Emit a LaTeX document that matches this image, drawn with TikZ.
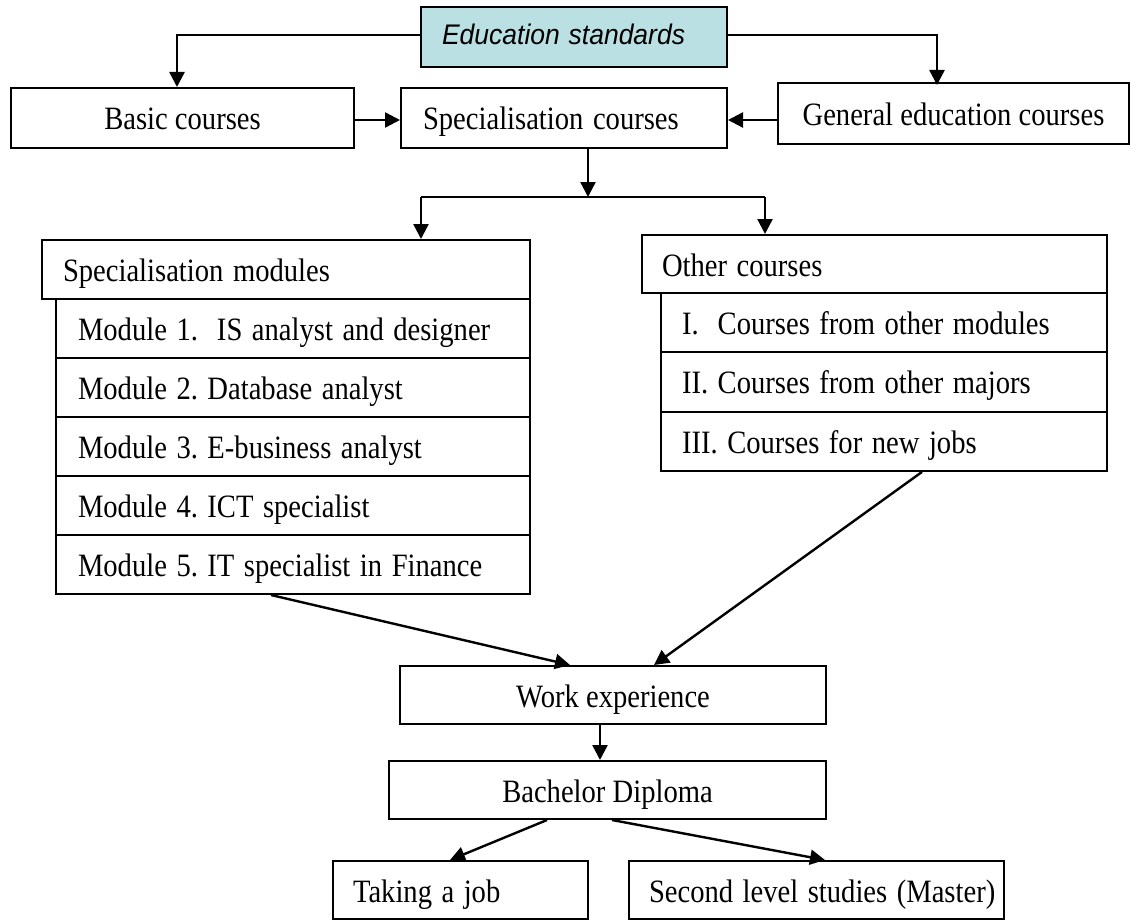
\documentclass[tikz,border=0pt]{standalone}
\usepackage{fontspec}
\usepackage{graphicx}
\setmainfont{Liberation Serif}
\newfontfamily\arialfont{Liberation Sans}
\usetikzlibrary{arrows.meta,calc}
\definecolor{edufill}{RGB}{187,224,227}
\newcommand\vs[1]{\scalebox{1}[1.14]{#1}}
\frenchspacing
\tikzset{
  box/.style={draw, line width=2pt, inner xsep=0pt, inner ysep=0pt, text height=24pt, text depth=0pt, font=\fontsize{28.6}{34}\selectfont\frenchspacing, align=center},
  lbox/.style={box, align=left},
  arr/.style={line width=2.4pt, -{Triangle[length=15pt,width=15pt]}},
  conn/.style={line width=2.4pt},
}
\begin{document}
\begin{tikzpicture}[x=1pt,y=-1pt]
\useasboundingbox (0,0) rectangle (1131,920);
% top row
\node[lbox, fill=edufill, minimum width=306pt, minimum height=60pt, inner xsep=21pt, text width=264pt, text height=16pt, font=\arialfont\itshape\fontsize{26.5}{30}\selectfont] (edu) at (574,37) {\scalebox{1}[1.07]{Education standards}};
\node[box, minimum width=343pt, minimum height=60pt] (basic) at (182.5,118) {\vs{Basic courses}};
\node[lbox, minimum width=326pt, minimum height=60pt, inner xsep=22pt, text width=282pt] (spec) at (564,118) {\vs{Specialisation courses}};
\node[box, minimum width=351pt, minimum height=61pt] (gen) at (953.5,113.5) {\vs{General education courses}};
% specialisation modules
\node[lbox, minimum width=488pt, minimum height=59pt, inner xsep=21pt, text width=446pt] (smod) at (286,269.5) {\vs{Specialisation modules}};
\node[lbox, minimum width=474pt, minimum height=59pt, inner xsep=22pt, text width=430pt] (m1) at (293,328.5) {\vs{Module 1.\ \ IS analyst and designer}};
\node[lbox, minimum width=474pt, minimum height=59pt, inner xsep=22pt, text width=430pt] (m2) at (293,387.5) {\vs{Module 2. Database analyst}};
\node[lbox, minimum width=474pt, minimum height=59pt, inner xsep=22pt, text width=430pt] (m3) at (293,446.5) {\vs{Module 3. E-business analyst}};
\node[lbox, minimum width=474pt, minimum height=59pt, inner xsep=22pt, text width=430pt] (m4) at (293,505.5) {\vs{Module 4. ICT specialist}};
\node[lbox, minimum width=474pt, minimum height=59pt, inner xsep=22pt, text width=430pt] (m5) at (293,564.5) {\vs{Module 5. IT specialist in Finance}};
% other courses
\node[lbox, minimum width=465pt, minimum height=58pt, inner xsep=20pt, text width=425pt] (other) at (874.5,264) {\vs{Other courses}};
\node[lbox, minimum width=446pt, minimum height=59.3pt, inner xsep=21pt, text width=404pt] (o1) at (884,322.65) {\vs{I.\ \ Courses from other modules}};
\node[lbox, minimum width=446pt, minimum height=59.3pt, inner xsep=21pt, text width=404pt] (o2) at (884,381.95) {\vs{II. Courses from other majors}};
\node[lbox, minimum width=446pt, minimum height=59.3pt, inner xsep=21pt, text width=404pt] (o3) at (884,441.25) {\vs{III. Courses for new jobs}};
% bottom
\node[box, minimum width=426pt, minimum height=58pt] (work) at (613,695) {\vs{Work experience}};
\node[box, minimum width=437pt, minimum height=58pt] (bach) at (607.5,790) {\vs{Bachelor Diploma}};
\node[lbox, minimum width=255pt, minimum height=58pt, inner xsep=20pt, text width=215pt] (job) at (460.5,890) {\vs{Taking a job}};
\node[lbox, minimum width=375pt, minimum height=58pt, inner xsep=20pt, text width=335pt] (master) at (816.5,890) {\vs{Second level studies (Master)}};
% connectors
\coordinate (bmid) at (588,197);
\coordinate (bl) at (421,197);
\coordinate (br) at (765,197);
\draw[arr] ([yshift=2pt]edu.west) -| ([xshift=-5.5pt]basic.north);
\draw[arr] ([yshift=2pt]edu.east) -| ([xshift=-16.5pt,yshift=-3pt]gen.north);
\draw[arr] ([yshift=-2pt]basic.east) -- ([yshift=-2pt]spec.west);
\draw[arr] ([yshift=-2pt]spec.east -| gen.west) -- ([yshift=-2pt]spec.east);
\draw[arr] ([xshift=24pt]spec.south) -- (bmid);
\draw[conn] (bl) -- (br);
\draw[arr] (bl) -- (smod.north -| bl);
\draw[arr] (br) -- (other.north -| br);
\draw[arr] ([xshift=-22pt]m5.south) -- ([xshift=-43pt]work.north);
\draw[arr] ([xshift=38pt]o3.south) -- ([xshift=41pt]work.north);
\draw[arr] ([xshift=-13pt]work.south) -- ([xshift=-13pt]work.south |- bach.north);
\draw[arr] ([xshift=-60.5pt]bach.south) -- ([xshift=-10.5pt]job.north);
\draw[arr] ([xshift=4.5pt]bach.south) -- ([xshift=8.5pt]master.north);
\end{tikzpicture}
\end{document}
